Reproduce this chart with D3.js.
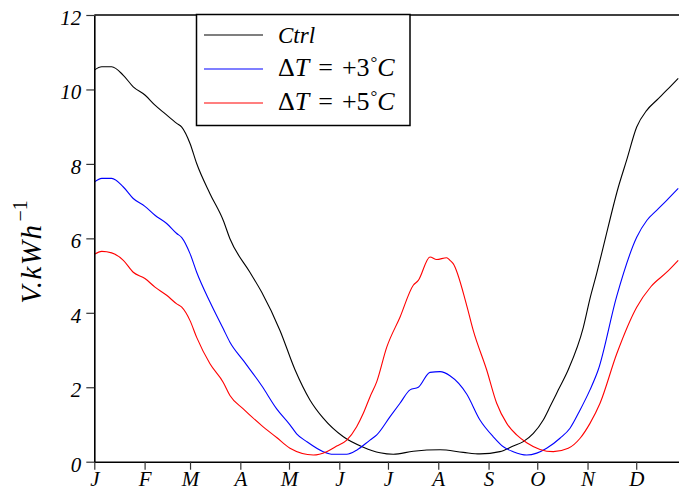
<!DOCTYPE html>
<html>
<head>
<meta charset="utf-8">
<script src="https://cdn.jsdelivr.net/npm/d3@7"></script>
<style>
  body { margin: 0; background: #fff; }
  svg { display: block; }
  .axis text { font-family: "Liberation Serif", "DejaVu Serif", serif; font-style: italic; font-size: 21px; fill: #000; }
  .axis path { stroke: #000; stroke-width: 1.6; }
  .axis line { stroke: #333; stroke-width: 1.2; }
</style>
</head>
<body>
<svg id="chart" width="679" height="490"></svg>
<script>
// day of year -> value
var ctrlDays = [0, 4.6, 10.7, 17.9, 24, 31.2, 37.4, 43.6, 50.8, 53.9, 59, 63.1, 71.3, 79.5, 83.6, 95.9, 103.2, 114.5, 123.7, 132.9, 141.1, 153.5, 165.8, 176.1, 184.3, 196.6, 213.1, 227.4, 237.7, 250, 258.2, 264.4, 270.6, 276.7, 280.9, 286, 292.1, 301.4, 305.5, 309.6, 313.7, 323, 328.1, 334.3, 340.5, 346.6, 352.8, 359.9];
var ctrlVals = [10.52, 10.61, 10.61, 10.38, 10.07, 9.85, 9.58, 9.35, 9.09, 8.99, 8.55, 8.01, 7.20, 6.48, 5.99, 5.09, 4.55, 3.52, 2.47, 1.66, 1.17, 0.67, 0.39, 0.24, 0.20, 0.28, 0.32, 0.25, 0.21, 0.27, 0.42, 0.54, 0.76, 1.12, 1.48, 1.93, 2.47, 3.61, 4.38, 5.05, 5.77, 7.38, 8.10, 8.99, 9.44, 9.71, 9.98, 10.30];

var plus3Days = [0, 4.6, 10.7, 17.9, 24, 31.2, 37.4, 44.6, 50.8, 53.9, 59, 63.1, 71.3, 79.5, 83.6, 91.8, 103.2, 112.4, 120.6, 124.7, 130.9, 141.1, 147.3, 155.6, 161.7, 169.9, 174.1, 182.3, 188.4, 194.6, 199.7, 206.9, 213.1, 219.2, 229.5, 237.7, 245.9, 252.1, 258.2, 266.5, 272.7, 278.8, 287, 293.2, 299.4, 305.5, 310.6, 322, 334.3, 340.5, 346.6, 352.8, 359.9];
var plus3Vals = [7.51, 7.61, 7.61, 7.38, 7.07, 6.86, 6.62, 6.40, 6.13, 6.02, 5.59, 5.09, 4.29, 3.57, 3.21, 2.72, 2.04, 1.42, 0.99, 0.75, 0.54, 0.27, 0.20, 0.20, 0.31, 0.58, 0.72, 1.21, 1.57, 1.93, 2.00, 2.40, 2.42, 2.31, 1.82, 1.12, 0.67, 0.40, 0.27, 0.18, 0.23, 0.36, 0.63, 0.90, 1.39, 1.93, 2.47, 4.45, 6.03, 6.48, 6.75, 7.02, 7.34];

var plus5Days = [0, 4.6, 10.7, 17.9, 24, 31.2, 37.4, 44.6, 50.8, 53.9, 59, 63.1, 71.3, 79.5, 83.6, 91.8, 103.2, 112.4, 120.6, 135, 143.2, 149.4, 155.6, 161.7, 165.8, 169.9, 174.1, 180.2, 188.4, 196.6, 199.7, 206.9, 211, 217.2, 219.2, 221.2, 229.5, 233.6, 241.8, 248, 254.2, 260.3, 266.5, 274.7, 282.9, 292.1, 299.4, 305.5, 311.7, 322, 334.3, 343, 352.8, 359.9];
var plus5Vals = [5.57, 5.65, 5.61, 5.41, 5.09, 4.92, 4.69, 4.47, 4.24, 4.15, 3.79, 3.34, 2.63, 2.13, 1.78, 1.42, 0.97, 0.65, 0.36, 0.18, 0.27, 0.42, 0.58, 0.94, 1.30, 1.74, 2.15, 3.07, 3.88, 4.74, 4.87, 5.50, 5.43, 5.48, 5.41, 5.32, 4.20, 3.52, 2.47, 1.57, 1.03, 0.72, 0.51, 0.33, 0.27, 0.36, 0.63, 1.03, 1.57, 2.90, 4.15, 4.70, 5.09, 5.41];

var monthStarts = [0, 31, 59, 90, 120, 151, 181, 212, 243, 273, 304, 334];
var monthLabels = ['J', 'F', 'M', 'A', 'M', 'J', 'J', 'A', 'S', 'O', 'N', 'D'];
var yTicks = [0, 2, 4, 6, 8, 10, 12];

var svg = d3.select('#chart');
var plotLeft = 94.3, plotTop = 15, plotBottom = 461.7;

var x = d3.scaleLinear().domain([0, 365]).range([plotLeft, plotLeft + 365 * 1.6225]);
var y = d3.scaleLinear().domain([0, 12]).range([plotBottom, plotTop]);

var series = [
  {name: 'ctrl', days: ctrlDays, vals: ctrlVals, color: '#000000'},
  {name: 'p3', days: plus3Days, vals: plus3Vals, color: '#0000ff'},
  {name: 'p5', days: plus5Days, vals: plus5Vals, color: '#ff0000'}
];

var line = d3.line()
  .x(function(d) { return x(d[0]); })
  .y(function(d) { return y(d[1]); })
  .curve(d3.curveMonotoneX);

series.forEach(function(s) {
  svg.append('path')
    .datum(d3.zip(s.days, s.vals))
    .attr('fill', 'none')
    .attr('stroke', s.color)
    .attr('stroke-width', 1.1)
    .attr('d', line);
});

// top frame line
svg.append('line')
  .attr('x1', plotLeft).attr('x2', 679)
  .attr('y1', plotTop).attr('y2', plotTop)
  .attr('stroke', '#000').attr('stroke-width', 1.6);

svg.append('g')
  .attr('class', 'axis x')
  .attr('transform', 'translate(0,' + plotBottom + ')')
  .call(d3.axisBottom(x).tickValues(monthStarts)
    .tickFormat(function(d, i) { return monthLabels[i]; })
    .tickSize(8).tickSizeOuter(0).tickPadding(1));

svg.append('g')
  .attr('class', 'axis y')
  .attr('transform', 'translate(' + plotLeft + ',0)')
  .call(d3.axisLeft(y).tickValues(yTicks).tickSize(8).tickSizeOuter(0).tickPadding(5))
  .selectAll('text').attr('dy', '0.45em');

// y label
var yl = svg.append('text')
  .attr('transform', 'translate(41,252) rotate(-90)')
  .attr('text-anchor', 'middle')
  .style('font-family', '"Liberation Serif", serif')
  .style('font-size', '29px');
yl.append('tspan').style('font-style', 'italic').style('letter-spacing', '1.5px').text('V.kWh');
yl.append('tspan').attr('dy', -14).attr('dx', 2).style('font-size', '20px').text('\u22121');

// legend
var lg = svg.append('g');
lg.append('rect')
  .attr('x', 196.5).attr('y', 14.5).attr('width', 213.5).attr('height', 111)
  .attr('fill', '#fff').attr('stroke', '#000').attr('stroke-width', 1.5);

var legendNames = ['Ctrl', '+3', '+5'];
var legendY = [35, 69, 103];
series.forEach(function(s, i) {
  lg.append('line')
    .attr('x1', 204).attr('x2', 263)
    .attr('y1', legendY[i]).attr('y2', legendY[i])
    .attr('stroke', s.color).attr('stroke-width', 1.1);
  var t = lg.append('text')
    .attr('x', 278)
    .style('font-family', '"Liberation Serif", serif');
  if (i === 0) {
    t.attr('y', legendY[i] + 8).style('font-size', '23px');
    t.append('tspan').style('font-style', 'italic').text(legendNames[i]);
  } else {
    t.attr('y', legendY[i] + 7).style('font-size', '26px');
    t.append('tspan').text('\u0394');
    t.append('tspan').style('font-style', 'italic').text('T');
    t.append('tspan').attr('dx', 9).text('=');
    t.append('tspan').attr('dx', 9).text(legendNames[i]);
    t.append('tspan').style('font-size', '17px').attr('dy', -8).attr('dx', 1).text('\u00b0');
    t.append('tspan').attr('dy', 8).style('font-style', 'italic').text('C');
  }
});
</script>
</body>
</html>
